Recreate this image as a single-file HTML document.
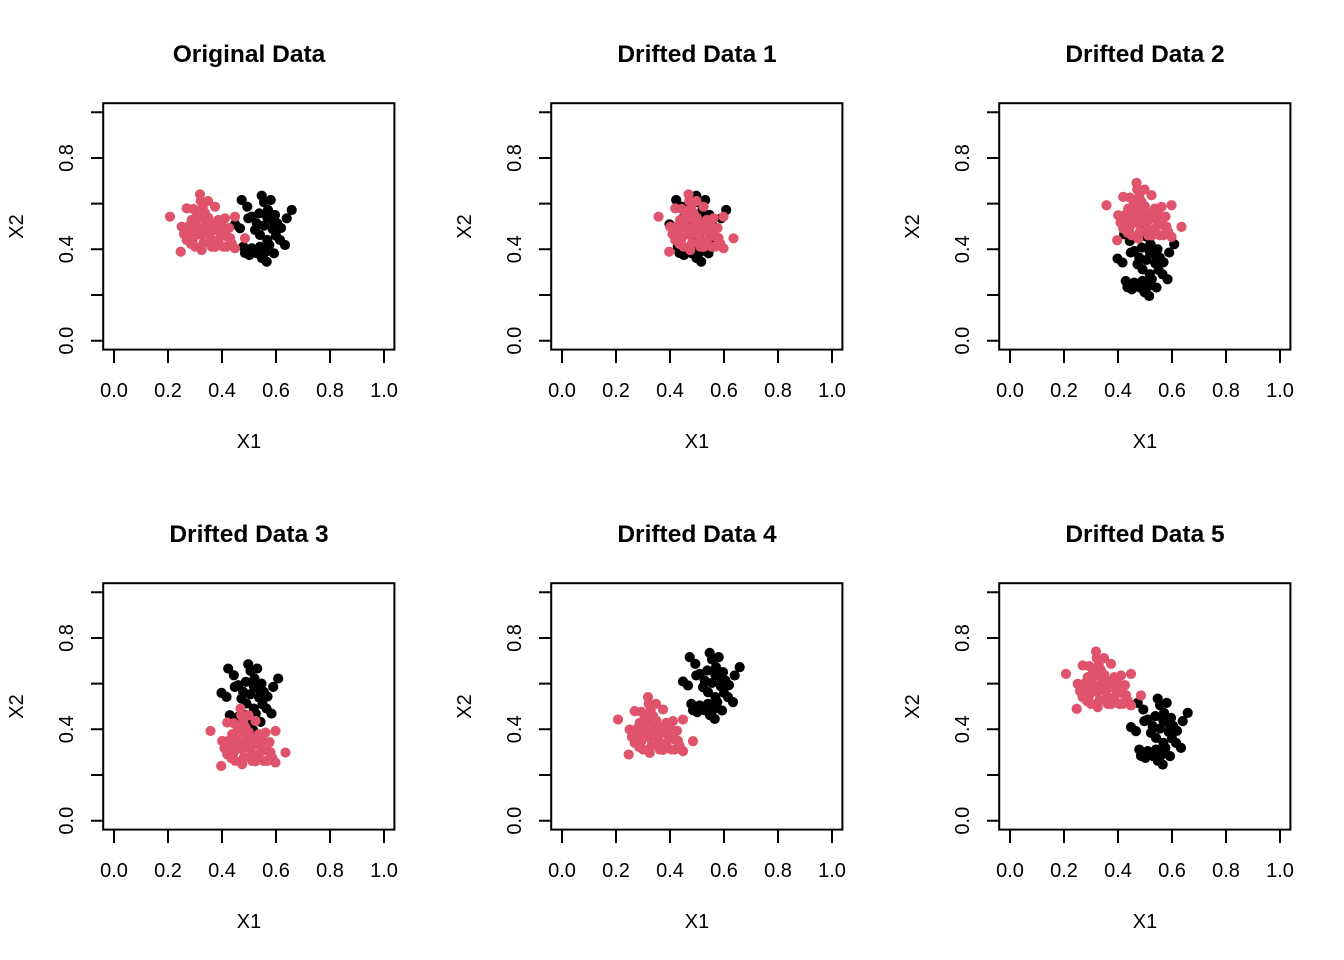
<!DOCTYPE html>
<html><head><meta charset="utf-8"><style>
html,body{margin:0;padding:0;background:#fff;}
svg{display:block;}
text{font-family:"Liberation Sans",Arial,sans-serif;fill:#000;}
.t{font-size:24.5px;font-weight:bold;text-anchor:middle;}
.k{font-size:20px;text-anchor:middle;}
</style></head><body>
<svg width="1344" height="960" viewBox="0 0 1344 960" xmlns="http://www.w3.org/2000/svg">
<defs>
<g id="frame" fill="none" stroke="#000" stroke-width="2">
<rect x="103.2" y="103.2" width="291.2" height="246.4"/>
<path d="M114 349.6V363M168 349.6V363M222 349.6V363M276 349.6V363M330 349.6V363M384 349.6V363"/>
<path d="M103.2 340.7H91M103.2 295H91M103.2 249.3H91M103.2 203.6H91M103.2 158H91M103.2 112.3H91"/>
</g>
<g id="red" fill="#DF536B">
<circle cx="170" cy="216.7" r="5.1"/><circle cx="200" cy="194.3" r="5.1"/><circle cx="200.7" cy="201" r="5.1"/><circle cx="186.7" cy="208.3" r="5.1"/><circle cx="193.3" cy="209" r="5.1"/><circle cx="202.7" cy="207.7" r="5.1"/><circle cx="215" cy="206.7" r="5.1"/><circle cx="181.7" cy="226.7" r="5.1"/><circle cx="191.7" cy="220" r="5.1"/><circle cx="200" cy="218.3" r="5.1"/><circle cx="208.3" cy="217.7" r="5.1"/><circle cx="218.3" cy="220" r="5.1"/><circle cx="225" cy="218.3" r="5.1"/><circle cx="235" cy="216.7" r="5.1"/><circle cx="188.3" cy="231.7" r="5.1"/><circle cx="196.7" cy="226.7" r="5.1"/><circle cx="205" cy="226.7" r="5.1"/><circle cx="213.3" cy="225" r="5.1"/><circle cx="220" cy="231.7" r="5.1"/><circle cx="226.7" cy="236.7" r="5.1"/><circle cx="193.3" cy="238.3" r="5.1"/><circle cx="201.7" cy="235" r="5.1"/><circle cx="210" cy="235" r="5.1"/><circle cx="218.3" cy="240" r="5.1"/><circle cx="231.7" cy="243.3" r="5.1"/><circle cx="235" cy="248.3" r="5.1"/><circle cx="186.7" cy="240" r="5.1"/><circle cx="201.7" cy="250" r="5.1"/><circle cx="211.7" cy="246.7" r="5.1"/><circle cx="223.3" cy="246.7" r="5.1"/><circle cx="180.7" cy="251.7" r="5.1"/><circle cx="245" cy="238.3" r="5.1"/><circle cx="195" cy="246.7" r="5.1"/><circle cx="206.7" cy="231.7" r="5.1"/><circle cx="196.7" cy="216.7" r="5.1"/><circle cx="210" cy="241.7" r="5.1"/><circle cx="226.7" cy="246.7" r="5.1"/><circle cx="203.3" cy="243.3" r="5.1"/>
<circle cx="198" cy="213" r="5.1"/><circle cx="205" cy="213" r="5.1"/><circle cx="189" cy="226" r="5.1"/><circle cx="215" cy="230" r="5.1"/><circle cx="222" cy="226" r="5.1"/><circle cx="197" cy="232" r="5.1"/><circle cx="191" cy="244" r="5.1"/><circle cx="215" cy="247" r="5.1"/><circle cx="230" cy="238" r="5.1"/><circle cx="207" cy="222" r="5.1"/><circle cx="184" cy="234" r="5.1"/><circle cx="229" cy="228" r="5.1"/><circle cx="208" cy="201" r="5.1"/>
</g>
<g id="blk" fill="#000">
<circle cx="241.7" cy="200" r="5.1"/><circle cx="247.3" cy="206.7" r="5.1"/><circle cx="261.7" cy="195.7" r="5.1"/><circle cx="264" cy="202.3" r="5.1"/><circle cx="270.7" cy="200" r="5.1"/><circle cx="291.7" cy="210" r="5.1"/><circle cx="286.7" cy="218.3" r="5.1"/><circle cx="251.7" cy="216.7" r="5.1"/><circle cx="259.3" cy="213.3" r="5.1"/><circle cx="267.3" cy="217.7" r="5.1"/><circle cx="275" cy="215" r="5.1"/><circle cx="277.3" cy="223.3" r="5.1"/><circle cx="235" cy="224.3" r="5.1"/><circle cx="240" cy="228.3" r="5.1"/><circle cx="256.7" cy="223.3" r="5.1"/><circle cx="264" cy="225.7" r="5.1"/><circle cx="272.7" cy="229" r="5.1"/><circle cx="276" cy="235.7" r="5.1"/><circle cx="285" cy="245" r="5.1"/><circle cx="267.3" cy="240" r="5.1"/><circle cx="243.3" cy="246.7" r="5.1"/><circle cx="251.7" cy="248.3" r="5.1"/><circle cx="260" cy="246.7" r="5.1"/><circle cx="269.3" cy="245" r="5.1"/><circle cx="249.3" cy="255" r="5.1"/><circle cx="257.3" cy="253.3" r="5.1"/><circle cx="265.3" cy="252.3" r="5.1"/><circle cx="266.7" cy="261.7" r="5.1"/><circle cx="274" cy="253.3" r="5.1"/><circle cx="248.3" cy="218.3" r="5.1"/><circle cx="260" cy="235" r="5.1"/><circle cx="273.3" cy="221.7" r="5.1"/>
<circle cx="255" cy="230" r="5.1"/><circle cx="262" cy="258" r="5.1"/><circle cx="245" cy="253" r="5.1"/><circle cx="280" cy="240" r="5.1"/><circle cx="268" cy="210" r="5.1"/><circle cx="281" cy="228" r="5.1"/>
</g>
</defs>

<!-- frames -->
<use href="#frame" x="0" y="0"/>
<use href="#frame" x="448" y="0"/>
<use href="#frame" x="896" y="0"/>
<use href="#frame" x="0" y="480"/>
<use href="#frame" x="448" y="480"/>
<use href="#frame" x="896" y="480"/>

<!-- points -->
<use href="#blk" x="0" y="0"/><use href="#red" x="0" y="0"/>
<use href="#blk" x="434.5" y="0"/><use href="#red" x="488.5" y="0"/>
<use href="#blk" x="882.5" y="34.26"/><use href="#red" x="936.5" y="-11.42"/>
<use href="#blk" x="-13.5" y="468.58"/><use href="#red" x="40.5" y="514.26"/>
<use href="#blk" x="448" y="457.16"/><use href="#red" x="448" y="502.84"/>
<use href="#blk" x="896" y="502.84"/><use href="#red" x="896" y="457.16"/>

<!-- titles -->
<text class="t" x="249" y="62">Original Data</text>
<text class="t" x="697" y="62">Drifted Data 1</text>
<text class="t" x="1145" y="62">Drifted Data 2</text>
<text class="t" x="249" y="542">Drifted Data 3</text>
<text class="t" x="697" y="542">Drifted Data 4</text>
<text class="t" x="1145" y="542">Drifted Data 5</text>

<!-- row 1 x tick labels -->
<text class="k" x="114" y="397">0.0</text><text class="k" x="168" y="397">0.2</text><text class="k" x="222" y="397">0.4</text><text class="k" x="276" y="397">0.6</text><text class="k" x="330" y="397">0.8</text><text class="k" x="384" y="397">1.0</text>
<text class="k" x="562" y="397">0.0</text><text class="k" x="616" y="397">0.2</text><text class="k" x="670" y="397">0.4</text><text class="k" x="724" y="397">0.6</text><text class="k" x="778" y="397">0.8</text><text class="k" x="832" y="397">1.0</text>
<text class="k" x="1010" y="397">0.0</text><text class="k" x="1064" y="397">0.2</text><text class="k" x="1118" y="397">0.4</text><text class="k" x="1172" y="397">0.6</text><text class="k" x="1226" y="397">0.8</text><text class="k" x="1280" y="397">1.0</text>
<!-- row 2 x tick labels -->
<text class="k" x="114" y="877">0.0</text><text class="k" x="168" y="877">0.2</text><text class="k" x="222" y="877">0.4</text><text class="k" x="276" y="877">0.6</text><text class="k" x="330" y="877">0.8</text><text class="k" x="384" y="877">1.0</text>
<text class="k" x="562" y="877">0.0</text><text class="k" x="616" y="877">0.2</text><text class="k" x="670" y="877">0.4</text><text class="k" x="724" y="877">0.6</text><text class="k" x="778" y="877">0.8</text><text class="k" x="832" y="877">1.0</text>
<text class="k" x="1010" y="877">0.0</text><text class="k" x="1064" y="877">0.2</text><text class="k" x="1118" y="877">0.4</text><text class="k" x="1172" y="877">0.6</text><text class="k" x="1226" y="877">0.8</text><text class="k" x="1280" y="877">1.0</text>

<!-- X1 labels -->
<text class="k" x="249" y="448">X1</text>
<text class="k" x="697" y="448">X1</text>
<text class="k" x="1145" y="448">X1</text>
<text class="k" x="249" y="928">X1</text>
<text class="k" x="697" y="928">X1</text>
<text class="k" x="1145" y="928">X1</text>

<!-- Y tick labels (rotated) -->
<text class="k" transform="translate(73,340.7) rotate(-90)">0.0</text>
<text class="k" transform="translate(73,249.3) rotate(-90)">0.4</text>
<text class="k" transform="translate(73,158) rotate(-90)">0.8</text>
<text class="k" transform="translate(521,340.7) rotate(-90)">0.0</text>
<text class="k" transform="translate(521,249.3) rotate(-90)">0.4</text>
<text class="k" transform="translate(521,158) rotate(-90)">0.8</text>
<text class="k" transform="translate(969,340.7) rotate(-90)">0.0</text>
<text class="k" transform="translate(969,249.3) rotate(-90)">0.4</text>
<text class="k" transform="translate(969,158) rotate(-90)">0.8</text>
<text class="k" transform="translate(73,820.7) rotate(-90)">0.0</text>
<text class="k" transform="translate(73,729.3) rotate(-90)">0.4</text>
<text class="k" transform="translate(73,638) rotate(-90)">0.8</text>
<text class="k" transform="translate(521,820.7) rotate(-90)">0.0</text>
<text class="k" transform="translate(521,729.3) rotate(-90)">0.4</text>
<text class="k" transform="translate(521,638) rotate(-90)">0.8</text>
<text class="k" transform="translate(969,820.7) rotate(-90)">0.0</text>
<text class="k" transform="translate(969,729.3) rotate(-90)">0.4</text>
<text class="k" transform="translate(969,638) rotate(-90)">0.8</text>

<!-- X2 labels -->
<text class="k" transform="translate(23,226.5) rotate(-90)">X2</text>
<text class="k" transform="translate(471,226.5) rotate(-90)">X2</text>
<text class="k" transform="translate(919,226.5) rotate(-90)">X2</text>
<text class="k" transform="translate(23,706.5) rotate(-90)">X2</text>
<text class="k" transform="translate(471,706.5) rotate(-90)">X2</text>
<text class="k" transform="translate(919,706.5) rotate(-90)">X2</text>
</svg>
</body></html>
